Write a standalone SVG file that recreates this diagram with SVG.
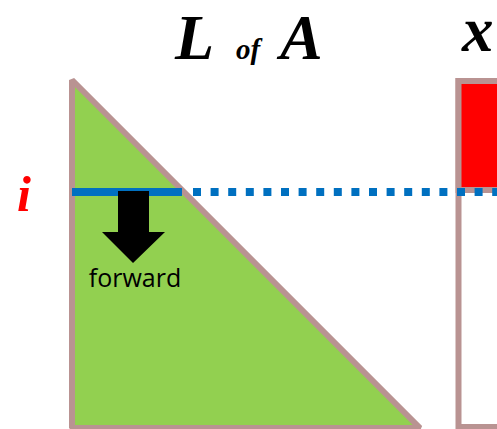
<svg xmlns="http://www.w3.org/2000/svg" width="497" height="429" viewBox="0 0 497 429">
<style>
.edge{stroke:#B99392;stroke-width:6;}
.title{font-family:"Liberation Serif","Times New Roman",serif;font-weight:bold;font-style:italic;fill:#000;}
.lbl{font-family:"Open Sans","Liberation Sans",sans-serif;font-size:25px;fill:#000;}
</style>
<rect width="497" height="429" fill="#fff"/>
<g id="title">
<text class="title" x="175" y="59" font-size="64">L</text>
<text class="title" x="236" y="59" font-size="29">of</text>
<text class="title" x="280" y="59" font-size="64">A</text>
<text class="title" x="462" y="51" font-size="63">x</text>
</g>
<g id="matrixL">
<polygon class="edge" points="72,80 72,428 420,428" fill="#92D050" stroke-linejoin="bevel"/>
</g>
<g id="vectorX">
<rect class="edge" x="458.5" y="81" width="60" height="346" fill="#fff"/>
<rect class="edge" x="458.5" y="81" width="60" height="109" fill="#FF0000"/>
</g>
<g id="rowI">
<text x="17" y="211" font-family="Liberation Serif, serif" font-weight="bold" font-style="italic" font-size="50" fill="#FF0000">i</text>
</g>
<g id="connectors">
<line x1="72" y1="192" x2="182" y2="192" stroke="#0070C0" stroke-width="8"/>
<line x1="193" y1="192" x2="497" y2="192" stroke="#0070C0" stroke-width="8" stroke-dasharray="8 9.6"/>
</g>
<g id="forwardArrow">
<polygon points="118,191 149,191 149,232 165,232 133,263 102,232 118,232" fill="#000"/>
<text class="lbl" x="135" y="287" text-anchor="middle">forward</text>
</g>
</svg>
